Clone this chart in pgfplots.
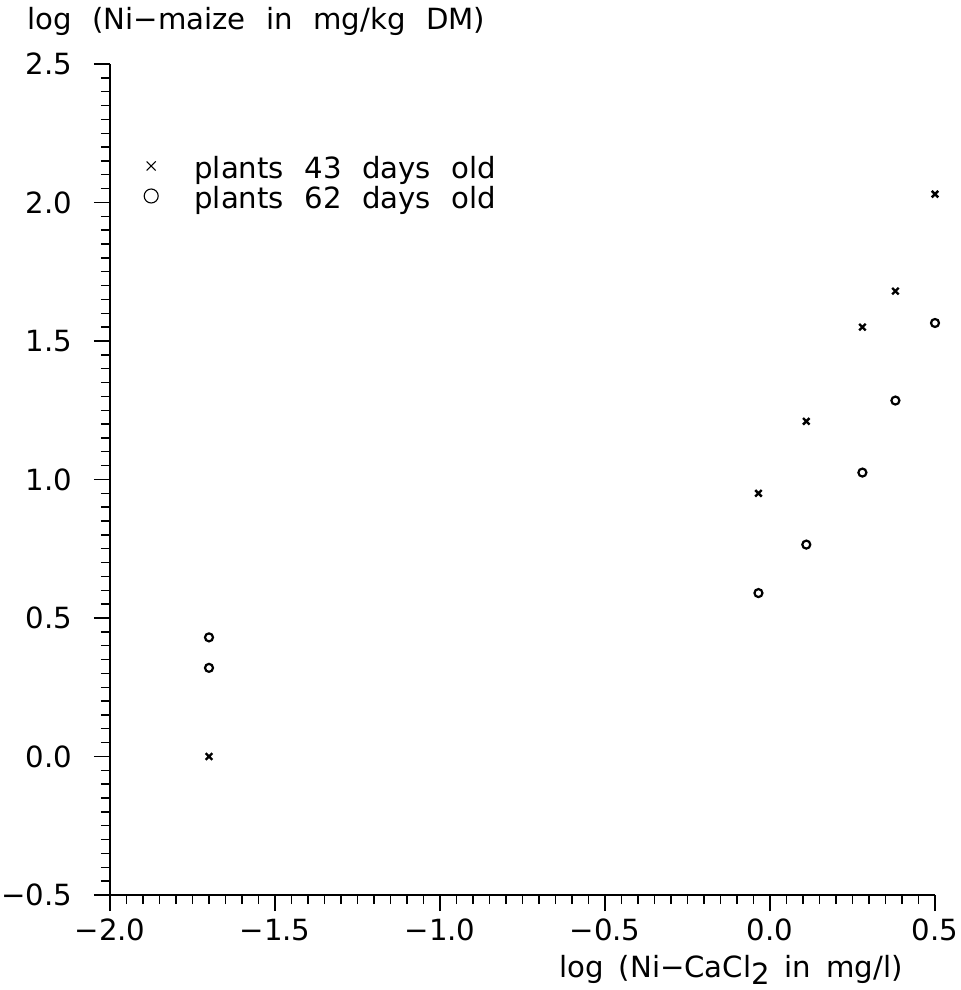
\documentclass[border=0pt]{standalone}
\usepackage{fontspec}
\setmainfont{DejaVu Sans}[WordSpace=2.2]
\newfontfamily\xlabfont{DejaVu Sans}[WordSpace=1.6]
\usepackage{pgfplots}
\pgfplotsset{compat=1.18}

\begin{document}
\begin{tikzpicture}[font=\fontsize{14.6}{17}\selectfont]
\begin{axis}[
    name=ax,
    scale only axis,
    width=412.5pt, height=415.5pt,
    xmin=-2, xmax=0.5, ymin=-0.5, ymax=2.5,
    axis x line*=bottom, axis y line*=left,
    axis line style={line width=1pt},
    tick align=outside,
    major tick length=8pt, minor tick length=4.5pt,
    tick style={line width=0.7pt, black},
    xtick={-2,-1.5,-1,-0.5,0,0.5},
    xticklabels={−2.0,−1.5,−1.0,−0.5,0.0,0.5},
    ytick={-0.5,0,0.5,1,1.5,2,2.5},
    yticklabels={−0.5,0.0,0.5,1.0,1.5,2.0,2.5},
    xticklabel style={yshift=-0.5pt},
    yticklabel style={xshift=-7.5pt},
    minor x tick num=9, minor y tick num=9,
    clip=false,
    legend cell align=left,
    legend style={draw=none, fill=none, inner sep=0pt, outer sep=0pt,
        at={(rel axis cs:0,0)}, anchor=north west, xshift=16pt, yshift=368pt,
        row sep=2pt, nodes={inner sep=0pt, text height=10pt, text depth=3pt}},
]
\addplot[only marks, mark=x, mark size=2.3pt, line width=1.2pt,
    legend image code/.code={\draw[line width=0.55pt] plot[mark=x, mark size=3.2pt] coordinates {(0pt,3pt)}; \path (-4pt,0) (21pt,0);}]
  coordinates {
  (-1.70, 0.00)
  (-0.035, 0.95)
  (0.11, 1.21)
  (0.28, 1.55)
  (0.38, 1.68)
  (0.50, 2.03)
};
\addlegendentry{plants 43 days old}
\addplot[only marks, mark=o, mark size=2pt, line width=1.1pt,
    legend image code/.code={\draw[line width=0.55pt] plot[mark=o, mark size=3.5pt] coordinates {(0pt,3pt)}; \path (-4pt,0) (21pt,0);}]
  coordinates {
  (-1.70, 0.32)
  (-1.70, 0.43)
  (-0.035, 0.59)
  (0.11, 0.765)
  (0.28, 1.025)
  (0.38, 1.285)
  (0.50, 1.565)
};
\addlegendentry{plants 62 days old}
\node[anchor=base west, inner sep=0pt, xshift=-41.5pt, yshift=17pt] at (rel axis cs:0,1)
  {log (Ni−maize in mg/kg DM)};
\node[anchor=base east, inner sep=0pt, xshift=-16pt, yshift=-41.5pt] at (rel axis cs:1,0)
  {\xlabfont log (Ni−CaCl\raisebox{-3.5pt}{2} in mg/l)};
\end{axis}
\pgfresetboundingbox
\path (ax.south west) ++(-55pt,-47.5pt) rectangle ++(480pt,495pt);
\end{tikzpicture}
\end{document}
